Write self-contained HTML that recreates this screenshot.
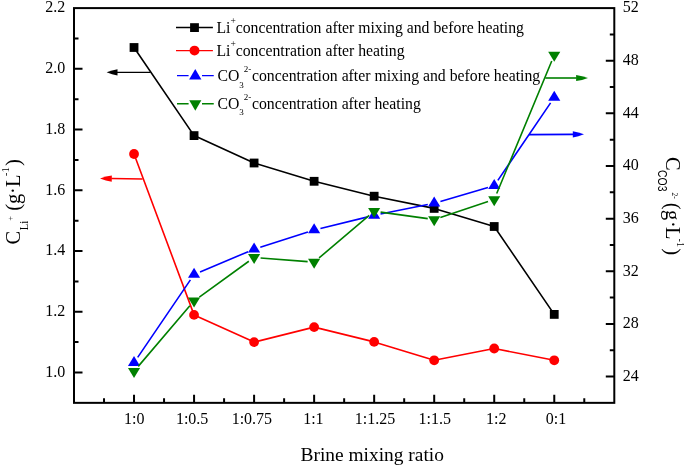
<!DOCTYPE html><html><head><meta charset="utf-8"><style>html,body{margin:0;padding:0;background:#fff;}svg{display:block;will-change:transform;}text{font-family:"Liberation Serif",serif;fill:#000;}</style></head><body>
<svg width="685" height="467" viewBox="0 0 685 467">
<rect x="74.0" y="8.1" width="540.30" height="394.75" fill="none" stroke="#000" stroke-width="2"/>
<path d="M74.0 372.48H82.5 M74.0 342.12H78.5 M74.0 311.75H82.5 M74.0 281.39H78.5 M74.0 251.02H82.5 M74.0 220.66H78.5 M74.0 190.29H82.5 M74.0 159.93H78.5 M74.0 129.56H82.5 M74.0 99.20H78.5 M74.0 68.83H82.5 M74.0 38.47H78.5 M614.3 376.53H605.8 M614.3 350.22H609.8 M614.3 323.90H605.8 M614.3 297.58H609.8 M614.3 271.27H605.8 M614.3 244.95H609.8 M614.3 218.63H605.8 M614.3 192.32H609.8 M614.3 166.00H605.8 M614.3 139.68H609.8 M614.3 113.37H605.8 M614.3 87.05H609.8 M614.3 60.73H605.8 M614.3 34.42H609.8 M104.02 402.85V398.35 M134.03 402.85V394.65000000000003 M164.05 402.85V398.35 M194.07 402.85V394.65000000000003 M224.08 402.85V398.35 M254.10 402.85V394.65000000000003 M284.12 402.85V398.35 M314.13 402.85V394.65000000000003 M344.15 402.85V398.35 M374.17 402.85V394.65000000000003 M404.18 402.85V398.35 M434.20 402.85V394.65000000000003 M464.22 402.85V398.35 M494.23 402.85V394.65000000000003 M524.25 402.85V398.35 M554.27 402.85V394.65000000000003 M584.28 402.85V398.35" stroke="#000" stroke-width="2" fill="none"/>
<text x="65.3" y="376.78" font-size="16" text-anchor="end">1.0</text>
<text x="65.3" y="316.05" font-size="16" text-anchor="end">1.2</text>
<text x="65.3" y="255.32" font-size="16" text-anchor="end">1.4</text>
<text x="65.3" y="194.59" font-size="16" text-anchor="end">1.6</text>
<text x="65.3" y="133.86" font-size="16" text-anchor="end">1.8</text>
<text x="65.3" y="73.13" font-size="16" text-anchor="end">2.0</text>
<text x="65.3" y="12.40" font-size="16" text-anchor="end">2.2</text>
<text x="622.7" y="380.83" font-size="16">24</text>
<text x="622.7" y="328.20" font-size="16">28</text>
<text x="622.7" y="275.57" font-size="16">32</text>
<text x="622.7" y="222.93" font-size="16">36</text>
<text x="622.7" y="170.30" font-size="16">40</text>
<text x="622.7" y="117.67" font-size="16">44</text>
<text x="622.7" y="65.03" font-size="16">48</text>
<text x="622.7" y="12.40" font-size="16">52</text>
<text x="124.02" y="423.5" font-size="16">1:0</text>
<text x="175.88" y="423.5" font-size="16">1:0.5</text>
<text x="231.68" y="423.5" font-size="16">1:0.75</text>
<text x="303.18" y="423.5" font-size="16">1:1</text>
<text x="354.78" y="423.5" font-size="16">1:1.25</text>
<text x="418.48" y="423.5" font-size="16">1:1.5</text>
<text x="486.08" y="423.5" font-size="16">1:2</text>
<text x="545.78" y="423.5" font-size="16">0:1</text>
<text x="300.6" y="460.7" font-size="19.4">Brine mixing ratio</text>
<g transform="translate(20,244.5) rotate(-90)"><text x="0" y="0" font-size="20.5" >C</text><text x="14.3" y="7.9" font-size="13" textLength="9.4" lengthAdjust="spacingAndGlyphs">Li</text><text x="23.8" y="-6.7" font-size="8.5" >+</text><text x="33.8" y="0" font-size="20.5" >(g</text><text x="50.6" y="0" font-size="20.5" >·L</text><text x="68.3" y="-11.3" font-size="11" >-1</text><text x="78.6" y="0" font-size="20.5" >)</text></g>
<g transform="translate(665.8,156.9) rotate(90)"><text x="0" y="0" font-size="20.5" >C</text><text x="13.2" y="7.8" font-size="12.5" font-family="Liberation Sans" style="font-family:'Liberation Sans',sans-serif" textLength="21.3" lengthAdjust="spacingAndGlyphs">CO3</text><text x="35.6" y="-6.1" font-size="7.5" >2-</text><text x="45.9" y="0" font-size="20.5" >(</text><text x="53.2" y="0" font-size="20.5" >g</text><text x="64.1" y="0" font-size="20.5" >·</text><text x="70.05" y="0" font-size="20.5" >L</text><text x="81.7" y="-11.2" font-size="10" >-1</text><text x="91.4" y="0" font-size="20.5" >)</text></g>
<polyline points="134.03,47.50 194.06,135.60 254.09,163.00 314.12,181.30 374.15,196.20 434.18,208.40 494.21,226.50 554.24,314.40" fill="none" stroke="#000" stroke-width="1.6" stroke-linejoin="round"/>
<rect x="129.63" y="43.10" width="8.8" height="8.8" fill="#000"/>
<rect x="189.66" y="131.20" width="8.8" height="8.8" fill="#000"/>
<rect x="249.69" y="158.60" width="8.8" height="8.8" fill="#000"/>
<rect x="309.72" y="176.90" width="8.8" height="8.8" fill="#000"/>
<rect x="369.75" y="191.80" width="8.8" height="8.8" fill="#000"/>
<rect x="429.78" y="204.00" width="8.8" height="8.8" fill="#000"/>
<rect x="489.81" y="222.10" width="8.8" height="8.8" fill="#000"/>
<rect x="549.84" y="310.00" width="8.8" height="8.8" fill="#000"/>
<polyline points="134.03,154.00 194.06,314.90 254.09,342.10 314.12,327.10 374.15,341.90 434.18,360.30 494.21,348.50 554.24,360.30" fill="none" stroke="#f00" stroke-width="1.6" stroke-linejoin="round"/>
<circle cx="134.03" cy="154.00" r="4.9" fill="#f00"/>
<circle cx="194.06" cy="314.90" r="4.9" fill="#f00"/>
<circle cx="254.09" cy="342.10" r="4.9" fill="#f00"/>
<circle cx="314.12" cy="327.10" r="4.9" fill="#f00"/>
<circle cx="374.15" cy="341.90" r="4.9" fill="#f00"/>
<circle cx="434.18" cy="360.30" r="4.9" fill="#f00"/>
<circle cx="494.21" cy="348.50" r="4.9" fill="#f00"/>
<circle cx="554.24" cy="360.30" r="4.9" fill="#f00"/>
<path d="M137.68 357.39L190.41 279.84M200.05 271.94L248.10 251.69M260.28 247.19L307.93 231.95M320.44 228.43L367.83 216.90M380.52 214.08L427.81 204.55M440.42 201.45L487.97 187.59M497.86 180.39L550.59 102.84" fill="none" stroke="#00f" stroke-width="1.6"/>
<path d="M134.03 356.10L140.08 366.10L127.98 366.10Z" fill="#00f"/>
<path d="M194.06 267.80L200.11 277.80L188.01 277.80Z" fill="#00f"/>
<path d="M254.09 242.50L260.14 252.50L248.04 252.50Z" fill="#00f"/>
<path d="M314.12 223.30L320.17 233.30L308.07 233.30Z" fill="#00f"/>
<path d="M374.15 208.70L380.20 218.70L368.10 218.70Z" fill="#00f"/>
<path d="M434.18 196.60L440.23 206.60L428.13 206.60Z" fill="#00f"/>
<path d="M494.21 179.10L500.26 189.10L488.16 189.10Z" fill="#00f"/>
<path d="M554.24 90.80L560.29 100.80L548.19 100.80Z" fill="#00f"/>
<path d="M138.24 366.38L189.85 305.78M199.33 297.03L248.82 261.24M260.57 257.94L307.64 261.63M319.08 257.93L369.19 215.44M380.59 212.12L427.74 218.64M440.35 217.48L488.04 201.59M496.70 193.53L551.75 61.04" fill="none" stroke="#008000" stroke-width="1.6"/>
<path d="M127.98 368.00L140.08 368.00L134.03 378.00Z" fill="#008000"/>
<path d="M188.01 297.50L200.11 297.50L194.06 307.50Z" fill="#008000"/>
<path d="M248.04 254.10L260.14 254.10L254.09 264.10Z" fill="#008000"/>
<path d="M308.07 258.80L320.17 258.80L314.12 268.80Z" fill="#008000"/>
<path d="M368.10 207.90L380.20 207.90L374.15 217.90Z" fill="#008000"/>
<path d="M428.13 216.20L440.23 216.20L434.18 226.20Z" fill="#008000"/>
<path d="M488.16 196.20L500.26 196.20L494.21 206.20Z" fill="#008000"/>
<path d="M548.19 51.70L560.29 51.70L554.24 61.70Z" fill="#008000"/>
<path d="M150.30 72.35L117.00 72.35" stroke="#000" stroke-width="1.3" fill="none"/><path d="M106.60 72.35Q112.05 70.10 117.50 69.25L117.50 75.45Q112.05 74.60 106.60 72.35Z" fill="#000"/>
<path d="M142.60 179.10L111.30 178.59" stroke="#f00" stroke-width="1.5" fill="none"/><path d="M100.00 178.40Q105.94 176.25 111.85 175.49L111.75 181.69Q105.86 180.75 100.00 178.40Z" fill="#f00"/>
<path d="M545.30 78.00L576.60 78.00" stroke="#008000" stroke-width="1.6" fill="none"/><path d="M588.00 78.00Q582.05 80.25 576.10 81.10L576.10 74.90Q582.05 75.75 588.00 78.00Z" fill="#008000"/>
<path d="M528.90 134.60L573.30 134.40" stroke="#00f" stroke-width="1.6" fill="none"/><path d="M584.00 134.35Q578.41 136.63 572.81 137.50L572.79 131.30Q578.39 132.13 584.00 134.35Z" fill="#00f"/>
<path d="M176 27.5H212.9" stroke="#000" stroke-width="1.4"/><rect x="190.10" y="23.20" width="8.8" height="8.8" fill="#000"/>
<path d="M176 50.6H212.9" stroke="#f00" stroke-width="1.4"/><circle cx="194.50" cy="50.60" r="4.95" fill="#f00"/>
<path d="M177 75.6H188.6M202 75.6H213.75" stroke="#00f" stroke-width="1.4"/><path d="M195.25 69.00L201.40 79.60L189.10 79.60Z" fill="#00f"/>
<path d="M177 103.7H188.6M202 103.7H213.75" stroke="#008000" stroke-width="1.4"/><path d="M189.25 100.30L201.35 100.30L195.30 110.80Z" fill="#008000"/>
<text x="216.4" y="32.8" font-size="15.75">Li<tspan font-size="9.5" dy="-9">+</tspan><tspan dy="9">concentration after mixing and before heating</tspan></text>
<text x="216.4" y="55.8" font-size="15.75">Li<tspan font-size="9.5" dy="-9">+</tspan><tspan dy="9">concentration after heating</tspan></text>
<text x="217.4" y="81.3" font-size="15.75">CO<tspan font-size="9" dy="6.3">3</tspan><tspan font-size="9" dy="-15.3">2-</tspan><tspan dy="9" dx="0.7">concentration after mixing and before heating</tspan></text>
<text x="217.4" y="109.1" font-size="15.75">CO<tspan font-size="9" dy="6.3">3</tspan><tspan font-size="9" dy="-15.3">2-</tspan><tspan dy="9" dx="0.7">concentration after heating</tspan></text>
</svg></body></html>
